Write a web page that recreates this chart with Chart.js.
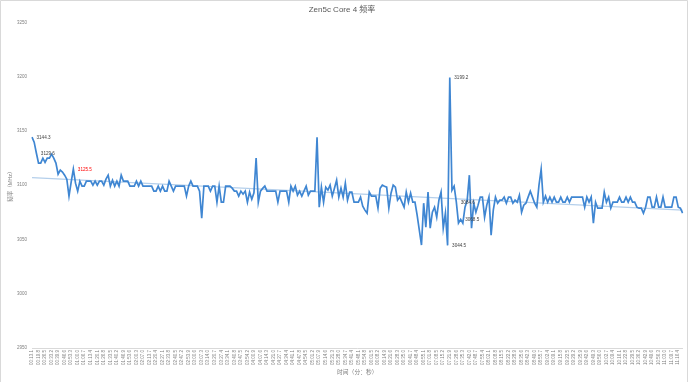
<!DOCTYPE html>
<html><head><meta charset="utf-8">
<script src="https://cdn.jsdelivr.net/npm/chart.js@4.4.1/dist/chart.umd.min.js"></script>
<style>html,body{margin:0;padding:0;background:#fff}#wrap{width:690px;height:382px}</style>
</head><body><div id="wrap"><canvas id="c" width="690" height="382"></canvas></div>
<script>
const chartTitle = 'Zen5c Core 4 频率';
const yTitle = '频率（MHz）';
const xTitle = '时间（分：秒）';
const yTicks = [2950, 3000, 3050, 3100, 3150, 3200, 3250];

const tickLabels = [
'00:13.1','00:19.8','00:26.5','00:33.2','00:39.9','00:46.6','00:53.3','01:00.0','01:06.7','01:13.4',
'01:20.1','01:26.8','01:33.5','01:40.2','01:46.9','01:53.6','02:00.3','02:07.0','02:13.7','02:20.4',
'02:27.1','02:33.8','02:40.5','02:47.2','02:53.9','03:00.6','03:07.3','03:14.0','03:20.7','03:27.4',
'03:34.1','03:40.8','03:47.5','03:54.2','04:00.9','04:07.6','04:14.3','04:21.0','04:27.7','04:34.4',
'04:41.1','04:47.8','04:54.5','05:01.2','05:07.9','05:14.6','05:21.3','05:28.0','05:34.7','05:41.4',
'05:48.1','05:54.8','06:01.5','06:08.2','06:14.9','06:21.6','06:28.3','06:35.0','06:41.7','06:48.4',
'06:55.1','07:01.8','07:08.5','07:15.2','07:21.9','07:28.6','07:35.3','07:42.0','07:48.7','07:55.4',
'08:02.1','08:08.8','08:15.5','08:22.2','08:28.9','08:35.6','08:42.3','08:49.0','08:55.7','09:02.4',
'09:09.1','09:15.8','09:22.5','09:29.2','09:35.9','09:42.6','09:49.3','09:56.0','10:02.7','10:09.4',
'10:16.1','10:22.8','10:29.5','10:36.2','10:42.9','10:49.6','10:56.3','11:03.0','11:09.7','11:16.4'
];

const freq = [
3144.3,3139.6,3129.6,3120.3,3120.3,3124.9,3121.0,3124.9,3124.9,3128.5,
3124.9,3120.3,3110.1,3113.8,3112.0,3109.2,3105.5,3089.9,3102.8,3114.7,
3101.8,3094.5,3103.7,3099.1,3099.1,3103.7,3103.7,3103.7,3100.0,3103.7,
3100.0,3103.7,3103.7,3100.0,3105.5,3109.2,3099.1,3104.6,3099.1,3103.7,
3099.1,3109.2,3103.7,3103.7,3103.7,3099.1,3099.1,3099.1,3103.7,3099.1,
3103.7,3099.1,3099.1,3099.1,3099.1,3099.1,3094.5,3094.5,3099.1,3094.5,
3099.1,3094.5,3094.5,3103.7,3099.1,3094.5,3099.1,3099.1,3099.1,3099.1,
3099.1,3089.9,3099.1,3103.7,3099.1,3099.1,3099.1,3094.5,3069.6,3099.1,
3099.1,3099.1,3094.5,3099.1,3099.1,3084.3,3099.1,3084.3,3084.3,3099.1,
3099.1,3099.1,3097.2,3094.5,3094.5,3089.9,3094.5,3091.7,3094.5,3084.3,
3093.6,3087.1,3093.0,3124.9,3084.3,3094.5,3097.0,3099.1,3094.5,3094.5,
3094.5,3094.5,3094.5,3084.3,3094.5,3094.5,3094.5,3094.5,3084.3,3099.1,
3094.5,3099.1,3090.8,3094.5,3089.9,3094.5,3099.1,3090.8,3094.5,3094.5,
3094.5,3144.2,3079.7,3098.2,3084.3,3098.2,3095.4,3100.0,3089.9,3097.2,
3104.6,3089.0,3097.2,3089.0,3101.8,3086.2,3093.6,3093.6,3084.3,3084.3,
3084.3,3089.0,3080.7,3077.0,3074.2,3093.6,3089.9,3089.9,3089.9,3078.8,
3097.2,3100.0,3099.0,3098.2,3078.8,3092.6,3100.0,3098.2,3086.2,3089.0,
3084.3,3079.7,3093.6,3084.3,3092.7,3084.3,3084.3,3072.4,3058.6,3044.8,
3083.4,3061.3,3093.6,3060.4,3075.1,3079.7,3070.5,3086.2,3093.6,3060.4,
3074.2,3044.5,3199.2,3095.4,3099.1,3084.6,3065.0,3068.5,3065.0,3079.7,
3086.0,3109.2,3060.4,3083.4,3075.1,3081.6,3089.0,3089.0,3070.5,3081.6,
3089.0,3054.0,3077.0,3089.0,3083.4,3086.2,3086.2,3089.0,3083.4,3089.0,
3089.0,3083.4,3086.2,3084.3,3090.8,3075.1,3081.6,3083.4,3089.0,3094.5,
3089.0,3083.4,3079.7,3100.0,3114.7,3084.3,3089.9,3084.3,3089.0,3084.3,
3089.0,3084.3,3084.3,3089.0,3084.3,3084.3,3089.0,3084.3,3089.0,3089.0,
3089.0,3089.0,3089.0,3089.0,3079.7,3089.0,3084.3,3089.0,3065.0,3084.3,
3078.8,3078.8,3078.8,3093.6,3084.3,3089.0,3078.8,3084.3,3084.3,3084.3,
3089.0,3084.3,3084.3,3089.0,3084.3,3089.0,3084.3,3084.3,3079.7,3078.8,
3078.8,3074.2,3079.7,3089.0,3089.0,3079.7,3079.7,3089.0,3079.7,3079.7,
3089.0,3079.7,3079.7,3079.7,3079.7,3089.0,3089.0,3079.7,3078.8,3074.2
];

const trendStart = 3107;
const trendEnd = 3077;

const labelIdx   = [0, 2, 19, 191, 192, 195, 197];
const labelText  = ['3144.3', '3129.6', '3125.5', '3044.5', '3199.2', '3084.6', '3068.5'];
const labelColor = ['#404040', '#404040', '#ff0000', '#404040', '#404040', '#404040', '#404040'];

const FAM = "'Liberation Sans', 'Noto Sans CJK SC', sans-serif";

const categories = tickLabels.flatMap(t => [t, '', '']);
const trend = categories.map((_, i) => i === 0 ? trendStart : (i === categories.length - 1 ? trendEnd : null));

const frame = {
  id: 'frame',
  beforeDraw(chart) {
    const ctx = chart.ctx;
    ctx.save();
    ctx.fillStyle = '#fff';
    ctx.fillRect(0, 0, chart.width, chart.height);
    ctx.strokeStyle = '#d9d9d9';
    ctx.lineWidth = 1;
    ctx.beginPath();
    ctx.moveTo(0.5, chart.height); ctx.lineTo(0.5, 0.5); ctx.lineTo(687.5, 0.5); ctx.lineTo(687.5, chart.height);
    ctx.stroke();
    ctx.restore();
  }
};

const dataLabels = {
  id: 'dataLabels',
  afterDatasetsDraw(chart) {
    const meta = chart.getDatasetMeta(0);
    const ctx = chart.ctx;
    ctx.save();
    ctx.font = '4.6px ' + FAM;
    ctx.textAlign = 'left';
    ctx.textBaseline = 'middle';
    labelIdx.forEach((idx, k) => {
      const p = meta.data[idx];
      ctx.fillStyle = labelColor[k];
      ctx.fillText(labelText[k], p.x + 4.5, p.y + 0.5);
    });
    ctx.restore();
  }
};

new Chart(document.getElementById('c'), {
  type: 'line',
  data: {
    labels: categories,
    datasets: [
      { data: freq, borderColor: '#3f86d2', borderWidth: 1.7, pointRadius: 0, tension: 0, fill: false },
      { data: trend, borderColor: '#b4cfeb', borderWidth: 1.3, pointRadius: 0, tension: 0, spanGaps: true, fill: false }
    ]
  },
  options: {
    responsive: false,
    animation: false,
    devicePixelRatio: 1,
    layout: { padding: { left: 0, right: 6, top: 0, bottom: 0 } },
    plugins: {
      legend: { display: false },
      tooltip: { enabled: false },
      title: {
        display: true, text: chartTitle, color: '#595959',
        font: { family: FAM, size: 8, weight: 'normal' },
        padding: { top: 5, bottom: 7.7 }
      }
    },
    scales: {
      x: {
        grid: { display: false, drawTicks: false },
        border: { display: true, color: '#d9d9d9', width: 1 },
        ticks: { autoSkip: false, maxRotation: 90, minRotation: 90, padding: 2, color: '#808080',
                 font: { family: FAM, size: 4.5 } },
        title: { display: true, text: xTitle, color: '#7f7f7f', font: { family: FAM, size: 5.8 },
                 padding: { top: 0, bottom: 6.5 } },
        afterFit: s => { s.height = 34; }
      },
      y: {
        min: 2950, max: 3250,
        afterBuildTicks: s => { s.ticks = yTicks.map(v => ({ value: v })); },
        grid: { display: false, drawTicks: false },
        border: { display: false },
        ticks: { padding: 5, color: '#808080', font: { family: FAM, size: 4.5 },
                 callback: v => String(v) },
        title: { display: true, text: yTitle, color: '#7f7f7f', font: { family: FAM, size: 5.5 },
                 padding: { top: 7, bottom: 0 } },
        afterFit: s => { s.width = 32; }
      }
    }
  },
  plugins: [frame, dataLabels]
});
</script>
</body></html>
